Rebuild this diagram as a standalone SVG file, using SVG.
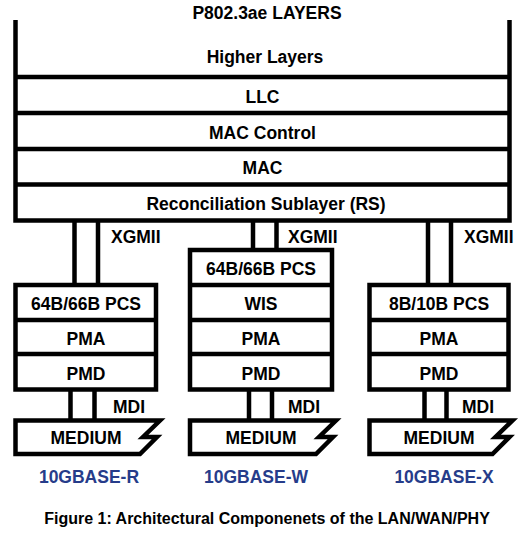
<svg xmlns="http://www.w3.org/2000/svg" width="521" height="535" viewBox="0 0 521 535">
<style>
.ln{fill:none;stroke:#000;stroke-width:4.5;stroke-linejoin:miter;stroke-linecap:butt}
.bx{fill:#fff;stroke:#000;stroke-width:4.5;stroke-linejoin:miter}
.t{font-family:"Liberation Sans",Arial,sans-serif;font-weight:bold;font-size:17.5px;fill:#000;text-anchor:middle}
.l{font-family:"Liberation Sans",Arial,sans-serif;font-weight:bold;font-size:17.5px;fill:#000}
.b{font-family:"Liberation Sans",Arial,sans-serif;font-weight:bold;font-size:17.5px;fill:#263c8a;text-anchor:middle}
.c{font-family:"Liberation Sans",Arial,sans-serif;font-weight:bold;font-size:16px;fill:#000;text-anchor:middle}
</style>
<rect width="521" height="535" fill="#fff"/>
<text class="t" x="267" y="19">P802.3ae LAYERS</text>
<g id="layers">
<path class="ln" d="M15.5,20 V220.5 H509.5 V20"/>
<path class="ln" d="M15.5,77 H509.5 M15.5,113 H509.5 M15.5,149 H509.5 M15.5,184.5 H509.5"/>
<text class="t" x="265" y="63">Higher Layers</text>
<text class="t" x="262.5" y="102.5">LLC</text>
<text class="t" x="262.5" y="138.5">MAC Control</text>
<text class="t" x="262.5" y="174">MAC</text>
<text class="t" x="266" y="210">Reconciliation Sublayer (RS)</text>
</g>
<g id="connectors">
<path class="ln" d="M74.5,220.5 V285 M98,220.5 V285"/>
<path class="ln" d="M253,220.5 V250 M276.5,220.5 V250"/>
<path class="ln" d="M428,220.5 V285 M451,220.5 V285"/>
<path class="ln" d="M70.5,389.5 V420.5 M94.5,389.5 V420.5"/>
<path class="ln" d="M249,389.5 V420.5 M272,389.5 V420.5"/>
<path class="ln" d="M424.5,389.5 V420.5 M446.5,389.5 V420.5"/>
<text class="l" x="111" y="243">XGMII</text>
<text class="l" x="288" y="243">XGMII</text>
<text class="l" x="464" y="243">XGMII</text>
<text class="l" x="113" y="413">MDI</text>
<text class="l" x="288" y="413">MDI</text>
<text class="l" x="462" y="413">MDI</text>
</g>
<g id="phy-r">
<rect class="bx" x="15.5" y="285" width="140.5" height="104.5"/>
<path class="ln" d="M15.5,320 H156 M15.5,354 H156"/>
<text class="t" x="86" y="310">64B/66B PCS</text>
<text class="t" x="86" y="344.5">PMA</text>
<text class="t" x="86" y="379.5">PMD</text>
<path class="bx" d="M15.5,420.5 H160 L143,437 H157 L140,454 H15.5 Z"/>
<text class="t" x="86" y="444">MEDIUM</text>
<text class="b" x="89" y="483">10GBASE-R</text>
</g>
<g id="phy-w">
<rect class="bx" x="190" y="250" width="142" height="139.5"/>
<path class="ln" d="M190,285 H332 M190,320 H332 M190,354 H332"/>
<text class="t" x="261" y="275">64B/66B PCS</text>
<text class="t" x="261" y="310">WIS</text>
<text class="t" x="261" y="344.5">PMA</text>
<text class="t" x="261" y="379.5">PMD</text>
<path class="bx" d="M190,420.5 H336 L319,437 H333 L316,454 H190 Z"/>
<text class="t" x="261" y="444">MEDIUM</text>
<text class="b" x="256" y="483">10GBASE-W</text>
</g>
<g id="phy-x">
<rect class="bx" x="369.5" y="285" width="139" height="104.5"/>
<path class="ln" d="M369.5,320 H508.5 M369.5,354 H508.5"/>
<text class="t" x="439" y="310">8B/10B PCS</text>
<text class="t" x="439" y="344.5">PMA</text>
<text class="t" x="439" y="379.5">PMD</text>
<path class="bx" d="M369.5,420.5 H512.5 L495.5,437 H509.5 L492.5,454 H369.5 Z"/>
<text class="t" x="439" y="444">MEDIUM</text>
<text class="b" x="444" y="483">10GBASE-X</text>
</g>
<text class="c" x="267" y="524">Figure 1: Architectural Componenets of the LAN/WAN/PHY</text>
</svg>
